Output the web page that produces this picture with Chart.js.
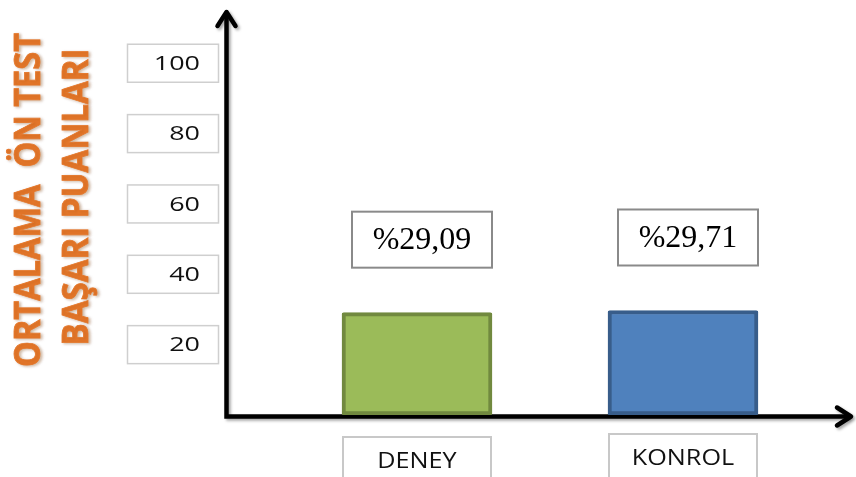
<!DOCTYPE html>
<html>
<head>
<meta charset="utf-8">
<script src="https://cdn.jsdelivr.net/npm/chart.js@4/dist/chart.umd.min.js"></script>
<style>
  html, body { margin: 0; padding: 0; background: #fff; }
  #wrap { width: 856px; height: 477px; position: relative; }
</style>
</head>
<body>
<div id="wrap"><canvas id="c" width="856" height="477"></canvas></div>
<script>
// Groups and mean pre-test scores
const categories = ['DENEY', 'KONROL'];
const scores = [29.09, 29.71];
const valueLabels = ['%29,09', '%29,71'];
const tickValues = [20, 40, 60, 80, 100];
const titleLines = ['ORTALAMA  ÖN TEST', 'BAŞARI PUANLARI'];

const fillColors = ['#9BBB59', '#4F81BD'];
const borderColors = ['#71893F', '#385D8A'];

function box(ctx, x, y, w, h, stroke, lw) {
  ctx.save();
  ctx.fillStyle = '#ffffff';
  ctx.fillRect(x, y, w, h);
  ctx.strokeStyle = stroke;
  ctx.lineWidth = lw;
  ctx.strokeRect(x, y, w, h);
  ctx.restore();
}

// text drawn with a horizontal stretch factor
function wideText(ctx, text, x, y, font, sx, align, color) {
  ctx.save();
  ctx.font = font;
  ctx.fillStyle = color;
  ctx.textAlign = align;
  ctx.textBaseline = 'middle';
  ctx.translate(x, y);
  ctx.scale(sx, 1);
  ctx.fillText(text, 0, 0);
  ctx.restore();
}

// Axes with arrow heads, boxed tick labels and the rotated title
const frame = {
  id: 'frame',
  beforeDatasetsDraw(chart) {
    const ctx = chart.ctx;
    const yScale = chart.scales.y;
    const ax = 226.5, ay = yScale.getPixelForValue(0) + 1.5;
    const topY = 12, rightX = 851;

    // title
    ctx.save();
    ctx.fillStyle = '#E5772A';
    ctx.strokeStyle = '#E5772A';
    ctx.lineWidth = 0.8;
    ctx.shadowColor = 'rgba(120,60,0,0.35)';
    ctx.shadowBlur = 3;
    ctx.shadowOffsetX = 2;
    ctx.shadowOffsetY = 1;
    ctx.font = 'bold 36px "Open Sans"';
    ctx.textAlign = 'center';
    ctx.textBaseline = 'middle';
    const spec = [{x: 30, y: 200, w: 334}, {x: 78, y: 197, w: 297}];
    titleLines.forEach((t, i) => {
      const s = spec[i];
      const mw = ctx.measureText(t).width;
      ctx.save();
      ctx.translate(s.x, s.y);
      ctx.rotate(-Math.PI / 2);
      ctx.scale(s.w / mw, 1);
      ctx.fillText(t, 0, 0);
      ctx.strokeText(t, 0, 0);
      ctx.restore();
    });
    ctx.restore();

    // tick boxes
    tickValues.forEach(v => {
      const cy = yScale.getPixelForValue(v);
      box(ctx, 127.5, cy - 19, 91, 38, '#cfcfcf', 1.5);
      wideText(ctx, String(v), 200, cy + 1, '19.5px "Open Sans"', 1.38, 'right', '#111');
    });

    // axes
    ctx.save();
    ctx.shadowColor = 'rgba(0,0,0,0.35)';
    ctx.shadowBlur = 3;
    ctx.shadowOffsetX = 2;
    ctx.shadowOffsetY = 2;
    ctx.strokeStyle = '#000';
    ctx.lineWidth = 4.5;
    ctx.lineCap = 'butt';
    ctx.lineJoin = 'miter';
    ctx.beginPath();
    ctx.moveTo(ax, topY + 2);
    ctx.lineTo(ax, ay);
    ctx.lineTo(rightX - 2, ay);
    ctx.stroke();
    ctx.lineJoin = 'round';
    ctx.lineCap = 'round';
    ctx.beginPath();
    ctx.moveTo(ax - 9, topY + 14);
    ctx.lineTo(ax, topY);
    ctx.lineTo(ax + 9, topY + 14);
    ctx.stroke();
    ctx.beginPath();
    ctx.moveTo(rightX - 14, ay - 9);
    ctx.lineTo(rightX, ay);
    ctx.lineTo(rightX - 14, ay + 9);
    ctx.stroke();
    ctx.restore();
  },
  afterDatasetsDraw(chart) {
    const ctx = chart.ctx;
    const meta = chart.getDatasetMeta(0);
    const xScale = chart.scales.x;
    meta.data.forEach((bar, i) => {
      // value box above the bar
      const cx = bar.x + 5;
      const cy = bar.y - 73;
      box(ctx, cx - 70, cy - 28, 140, 56, '#8a8a8a', 2);
      wideText(ctx, valueLabels[i], cx, cy + 1, '32px "Liberation Serif"', 1, 'center', '#000');

      // category box below the axis
      const gx = xScale.getPixelForValue(i);
      const top = i === 0 ? 437 : 434;
      box(ctx, gx - 74, top, 148, 60, '#c8c8c8', 2);
      wideText(ctx, categories[i], gx, top + 25, '21px "Open Sans"', 1.2, 'center', '#111');
    });
  }
};

new Chart(document.getElementById('c'), {
  type: 'bar',
  data: {
    labels: categories,
    datasets: [{
      data: scores,
      backgroundColor: fillColors,
      borderColor: borderColors,
      borderWidth: 4,
      borderRadius: 2,
      borderSkipped: false,
      barThickness: 150
    }]
  },
  options: {
    responsive: false,
    animation: false,
    devicePixelRatio: 1,
    layout: { padding: { left: 284, right: 40, top: 14, bottom: 62 } },
    plugins: { legend: { display: false }, tooltip: { enabled: false } },
    scales: {
      x: { display: false },
      y: { display: false, min: 0, max: 114 }
    }
  },
  plugins: [frame]
});
</script>
</body>
</html>
